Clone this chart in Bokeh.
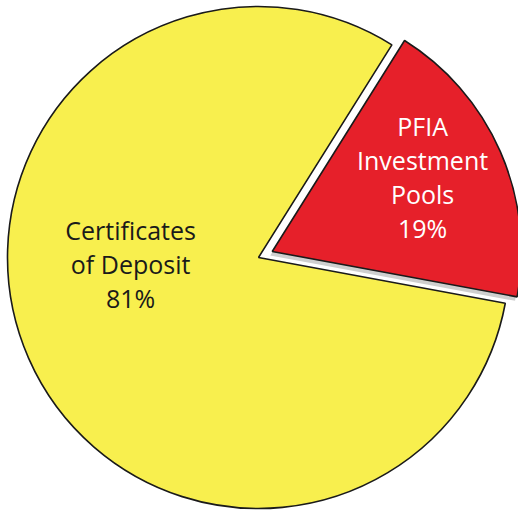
import numpy as np
from bokeh.plotting import figure
from bokeh.models import Range1d, ColumnDataSource
from bokeh.embed import file_html
from bokeh.resources import INLINE
from bokeh.core.properties import value

# ---- data ----
categories = ["PFIA\nInvestment\nPools", "Certificates\nof Deposit"]
shares = [19, 81]
pct_labels = ["19%", "81%"]
colors = ["#E6202A", "#F8EF4E"]
text_colors = ["#FFFFFF", "#1A1A1A"]

# ---- layout / style ----
start_deg = -10.5
cx, cy = 258.0, 256.0
R = 251.0
explode = [15.0, 0.0]
label_r = [168.0, 128.0]
label_ang = [26.5, 182.7]

frac = np.array(shares, dtype=float) / sum(shares)
ends = np.radians(start_deg) + np.cumsum(frac) * 2 * np.pi
starts = ends - frac * 2 * np.pi
mids = (starts + ends) / 2

xs = [cx + e * np.cos(m) for e, m in zip(explode, mids)]
ys = [cy + e * np.sin(m) for e, m in zip(explode, mids)]

p = figure(width=518, height=513, output_backend="svg", toolbar_location=None,
           x_range=Range1d(0, 518), y_range=Range1d(0, 513),
           x_axis_location=None, y_axis_location=None, min_border=0)
p.outline_line_color = None
p.grid.visible = False
p.background_fill_color = "white"
p.border_fill_color = "white"

order = [1, 0]
for i in order:
    if explode[i] > 0:
        p.wedge(x=xs[i] - 2, y=ys[i] - 4, radius=R - 2, start_angle=starts[i], end_angle=ends[i],
                fill_color="#CFCFCF", line_color=None)
    p.wedge(x=xs[i], y=ys[i], radius=R if explode[i] == 0 else R - 2,
            start_angle=starts[i], end_angle=ends[i],
            fill_color=colors[i], line_color="#1A1A1A", line_width=1.6)

lx = [xs[i] + label_r[i] * np.cos(np.radians(label_ang[i])) for i in range(2)]
ly = [ys[i] + label_r[i] * np.sin(np.radians(label_ang[i])) for i in range(2)]
src = ColumnDataSource(dict(x=lx, y=ly,
                            t=[c + "\n" + pc for c, pc in zip(categories, pct_labels)],
                            c=text_colors))
p.text(x="x", y="y", text="t", source=src, text_color="c",
       text_font=value("Open Sans"), text_font_size="25px",
       text_align="center", text_baseline="middle", text_line_height=1.0)

open("out.html", "w").write(file_html(p, INLINE))
